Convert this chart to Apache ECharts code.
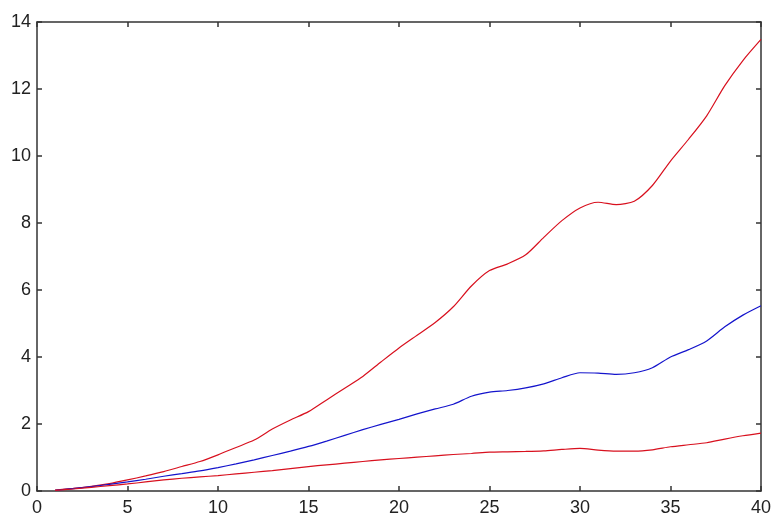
<!DOCTYPE html>
<html>
<head>
<meta charset="utf-8">
<script src="https://cdn.jsdelivr.net/npm/echarts@6/dist/echarts.min.js"></script>
<style>
  html, body { margin: 0; padding: 0; background: #fff; }
  #chart { width: 774px; height: 517px; }
</style>
</head>
<body>
<div id="chart"></div>
<script>
// x positions (steps 1..40)
const steps = [1,2,3,4,5,6,7,8,9,10,11,12,13,14,15,16,17,18,19,20,
               21,22,23,24,25,26,27,28,29,30,31,32,33,34,35,36,37,38,39,40];

// upper bound curve
const upperValues = [0.03,0.08,0.14,0.22,0.33,0.45,0.58,0.73,0.88,1.08,
                     1.30,1.52,1.85,2.12,2.37,2.72,3.07,3.42,3.85,4.27,
                     4.65,5.03,5.50,6.12,6.58,6.78,7.05,7.57,8.07,8.45,
                     8.62,8.55,8.65,9.12,9.85,10.5,11.2,12.1,12.85,13.48];

// central curve
const middleValues = [0.02,0.07,0.13,0.20,0.27,0.35,0.44,0.52,0.60,0.70,
                      0.81,0.93,1.06,1.19,1.33,1.49,1.66,1.83,1.99,2.14,
                      2.30,2.45,2.59,2.83,2.95,3.00,3.08,3.20,3.38,3.53,
                      3.52,3.48,3.53,3.68,4.00,4.22,4.48,4.90,5.25,5.53];

// lower bound curve
const lowerValues = [0.02,0.06,0.11,0.16,0.21,0.27,0.33,0.38,0.42,0.46,
                     0.51,0.56,0.61,0.67,0.73,0.78,0.83,0.88,0.93,0.97,
                     1.01,1.05,1.09,1.12,1.16,1.17,1.18,1.20,1.24,1.27,
                     1.22,1.19,1.19,1.23,1.32,1.38,1.44,1.55,1.65,1.73];

const xTicks = [0, 5, 10, 15, 20, 25, 30, 35, 40];
const yTicks = [0, 2, 4, 6, 8, 10, 12, 14];

const pairs = (vals) => steps.map((x, i) => [x, vals[i]]);

const frameColor = '#333';
const labelStyle = { color: '#222', fontFamily: 'Liberation Sans, Arial, sans-serif', fontSize: 18 };

const axisCommon = (extra) => Object.assign({
  type: 'value',
  axisLine: { show: true, onZero: false, lineStyle: { color: frameColor, width: 1.5 } },
  axisTick: { show: true, inside: true, length: 5, lineStyle: { color: frameColor, width: 1.5 } },
  splitLine: { show: false }
}, extra);

const chart = echarts.init(document.getElementById('chart'), null, { renderer: 'canvas' });
chart.setOption({
  animation: false,
  backgroundColor: '#fff',
  grid: { left: 37, right: 10, top: 22, bottom: 22 },
  xAxis: [
    axisCommon({
      position: 'bottom', min: xTicks[0], max: xTicks[xTicks.length - 1], interval: 5,
      axisLabel: Object.assign({ margin: 8 }, labelStyle)
    }),
    axisCommon({
      position: 'top', min: xTicks[0], max: xTicks[xTicks.length - 1], interval: 5,
      axisLabel: { show: false }
    })
  ],
  yAxis: [
    axisCommon({
      position: 'left', min: yTicks[0], max: yTicks[yTicks.length - 1], interval: 2,
      axisLabel: Object.assign({ margin: 6 }, labelStyle)
    }),
    axisCommon({
      position: 'right', min: yTicks[0], max: yTicks[yTicks.length - 1], interval: 2,
      axisLabel: { show: false }
    })
  ],
  series: [
    { type: 'line', data: pairs(upperValues), showSymbol: false, smooth: 0.25,
      lineStyle: { color: '#d8101e', width: 1.2 } },
    { type: 'line', data: pairs(middleValues), showSymbol: false, smooth: 0.25,
      lineStyle: { color: '#1414cc', width: 1.2 } },
    { type: 'line', data: pairs(lowerValues), showSymbol: false, smooth: 0.25,
      lineStyle: { color: '#d8101e', width: 1.2 } }
  ]
});
</script>
</body>
</html>
